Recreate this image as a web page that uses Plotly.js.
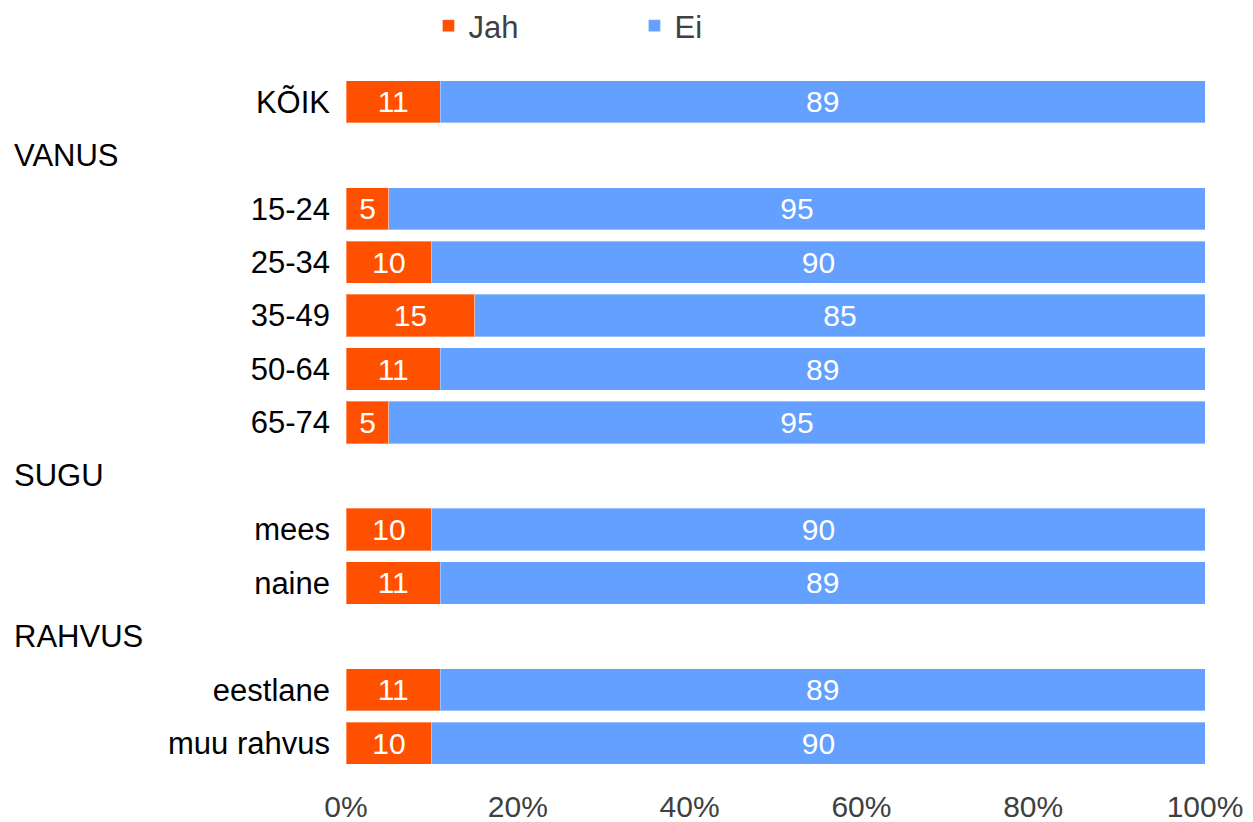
<!DOCTYPE html>
<html>
<head>
<meta charset="utf-8">
<script src="https://cdn.plot.ly/plotly-3.0.1.min.js"></script>
<style>
html,body{margin:0;padding:0;background:#fff;}
#chart{width:1253px;height:822px;}
</style>
</head>
<body>
<div id="chart"></div>
<script>
// Rows (top to bottom); header rows carry no values
const categories = ["KÕIK", "VANUS", "15-24", "25-34", "35-49", "50-64", "65-74", "SUGU", "mees", "naine", "RAHVUS", "eestlane", "muu rahvus"];
const headerRows = ["VANUS", "SUGU", "RAHVUS"];
const jahValues = [11, null, 5, 10, 15, 11, 5, null, 10, 11, null, 11, 10];
const eiValues  = [89, null, 95, 90, 85, 89, 95, null, 90, 89, null, 89, 90];
const seriesNames = ["Jah", "Ei"];
const xTickVals = [0, 20, 40, 60, 80, 100];

const tickTexts = categories.map(c => headerRows.includes(c) ? "" : c);
const fontFamily = "Liberation Sans, Arial, sans-serif";

function barTrace(name, vals, color) {
  return {
    type: "bar",
    orientation: "h",
    name: name,
    y: categories,
    x: vals,
    text: vals.map(v => v === null ? "" : String(v)),
    textposition: "inside",
    insidetextanchor: "middle",
    textangle: 0,
    constraintext: "none",
    insidetextfont: {family: fontFamily, size: 30, color: "#ffffff"},
    marker: {color: color, line: {color: "rgba(255,255,255,0.35)", width: 1}},
    hoverinfo: "none"
  };
}

const data = [
  barTrace(seriesNames[0], jahValues, "#FF5000"),
  barTrace(seriesNames[1], eiValues, "#63A0FF")
];

const plotLeft = 346, plotWidth = 859, plotTop = 75, plotHeight = 695;
const annotations = headerRows.map(h => ({
  text: h,
  xref: "paper",
  x: (12 - plotLeft) / plotWidth,
  xanchor: "left",
  yref: "y",
  y: h,
  yanchor: "middle",
  showarrow: false,
  font: {family: fontFamily, size: 31, color: "#000000"}
}));

const layout = {
  width: 1253,
  height: 822,
  paper_bgcolor: "#ffffff",
  plot_bgcolor: "#ffffff",
  margin: {l: plotLeft, r: 48, t: plotTop, b: 52},
  barmode: "stack",
  bargap: 0.21,
  showlegend: true,
  legend: {
    orientation: "h",
    x: 0.096,
    xanchor: "left",
    yref: "container",
    y: 1 - 26 / 822,
    yanchor: "middle",
    font: {family: fontFamily, size: 31, color: "#404040"},
    entrywidth: 161,
    itemclick: false,
    traceorder: "normal"
  },
  xaxis: {
    range: [0, 100],
    tickvals: xTickVals,
    ticktext: xTickVals.map(v => v + "%"),
    showgrid: false,
    zeroline: false,
    showline: false,
    ticks: "",
    ticklabelstandoff: 16,
    tickfont: {family: fontFamily, size: 30, color: "#404040"},
    fixedrange: true
  },
  yaxis: {
    type: "category",
    categoryorder: "array",
    categoryarray: categories,
    tickvals: categories,
    ticktext: tickTexts,
    autorange: "reversed",
    showgrid: false,
    zeroline: false,
    showline: false,
    ticks: "",
    ticklabelstandoff: 15,
    tickfont: {family: fontFamily, size: 31, color: "#000000"},
    fixedrange: true
  },
  annotations: annotations,
  font: {family: fontFamily}
};

Plotly.newPlot("chart", data, layout, {displayModeBar: false, staticPlot: true});
</script>
</body>
</html>
